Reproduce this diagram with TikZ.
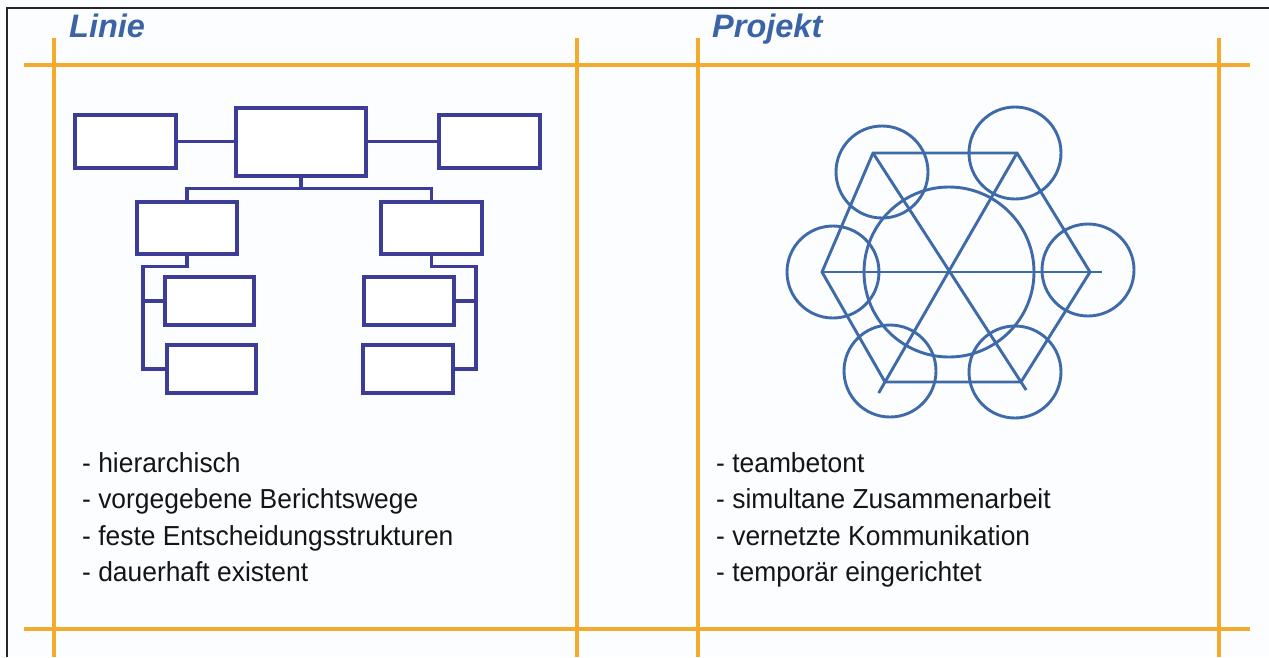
\documentclass[tikz,border=0pt]{standalone}
\usepackage{fontspec}
\setmainfont{Liberation Sans}
\usepackage{tikz}
\usetikzlibrary{calc}
\definecolor{orgcolor}{HTML}{3D3D98}
\definecolor{netcolor}{HTML}{3E6AA9}
\definecolor{rulecolor}{HTML}{F4AA2C}
\definecolor{headcolor}{HTML}{3A64A6}
\definecolor{ink}{HTML}{151515}
\definecolor{paper}{HTML}{FCFDFE}
\tikzset{
  orgbox/.style={
    draw=orgcolor,
    line width=3.4pt,
    fill=white,
    inner sep=0pt
  },
  orgline/.style={draw=orgcolor,line width=3.4pt},
  netring/.style={
    draw=netcolor,
    circle,
    line width=2.9pt,
    inner sep=0pt
  },
  netline/.style={draw=netcolor,line width=2.9pt},
  rule/.style={draw=rulecolor,line width=4.5pt},
  listtext/.style={
    text=ink,
    font=\fontsize{27.5}{30}\selectfont,
    xscale=0.96,
    transform shape,
    anchor=base west,
    inner sep=0pt
  },
  headtext/.style={
    text=headcolor,
    font=\fontsize{32.5}{36}\selectfont\bfseries\itshape,
    anchor=base west,
    inner sep=0pt
  }
}

\begin{document}
\begin{tikzpicture}[x=1pt,y=-1pt]
  \useasboundingbox (0,0) rectangle (1269,657);
  \fill[paper] (0,0) rectangle (1269,657);
  \draw[black!85,line width=1.3pt] (7,657) -- (7,8) -- (1269,8);

  % frame
  \draw[rule] (24,65) -- (1250,65);
  \draw[rule] (24,629) -- (1250,629);
  \draw[rule] (54,38) -- (54,657);
  \draw[rule] (577,38) -- (577,657);
  \draw[rule] (698,38) -- (698,657);
  \draw[rule] (1219,38) -- (1219,657);

  \node[headtext] (linie) at (69,37) {Linie};
  \node[headtext] (projekt) at (712,37) {Projekt};

  % Linienorganisation
  \node[orgbox, minimum width=101pt, minimum height=53pt] (stabL) at (125.5,141.5) {};
  \node[orgbox, minimum width=130pt, minimum height=68pt] (chef) at (301,142) {};
  \node[orgbox, minimum width=101pt, minimum height=53pt] (stabR) at (489.5,141.5) {};
  \node[orgbox, minimum width=100pt, minimum height=52pt] (abtL) at (187,228) {};
  \node[orgbox, minimum width=101pt, minimum height=52pt] (abtR) at (431.5,228) {};
  \node[orgbox, minimum width=89pt, minimum height=48pt] (subL1) at (209.5,301) {};
  \node[orgbox, minimum width=89pt, minimum height=48pt] (subL2) at (211.5,369) {};
  \node[orgbox, minimum width=90pt, minimum height=48pt] (subR1) at (409,301) {};
  \node[orgbox, minimum width=90pt, minimum height=48pt] (subR2) at (408,369) {};
  \coordinate (spineL) at (143,301);
  \coordinate (spineR) at (476,301);

  \draw[orgline] (stabL.east) -- (stabL.east -| chef.west);
  \draw[orgline] (chef.east |- stabR.west) -- (stabR.west);
  \draw[orgline] (chef.south) -- ++(0,11) coordinate (bus);
  \draw[orgline] (abtL.north) |- (bus) -| (abtR.north);
  \draw[orgline] (abtL.south) -- ++(0,11) -| (spineL) |- (subL2.west);
  \draw[orgline] (spineL) -- (subL1.west);
  \draw[orgline] (abtR.south) -- ++(0,11) -| (spineR) |- (subR2.east);
  \draw[orgline] (spineR) -- (subR1.east);

  % Projektorganisation
  \node[netring, minimum size=170pt] (kern) at (949,272) {};
  \node[netring, minimum size=92pt] (p1) at (882,172) {};
  \node[netring, minimum size=92pt] (p2) at (1015,153) {};
  \node[netring, minimum size=92pt] (p3) at (1088,270) {};
  \node[netring, minimum size=92pt] (p4) at (1015,372) {};
  \node[netring, minimum size=92pt] (p5) at (890,371) {};
  \node[netring, minimum size=92pt] (p6) at (833,272) {};
  \coordinate (h1) at (873,153);
  \coordinate (h2) at (1017,153);
  \coordinate (h3) at (1090,272);
  \coordinate (h4) at (1021,382);
  \coordinate (h5) at (885,382);
  \coordinate (h6) at (822,272);
  \draw[netline] (h1) -- (h2) -- (h3) -- (h4) -- (h5) -- (h6) -- cycle;
  \draw[netline] (h6) -- ($(h6)!1.045!(h3)$);
  \draw[netline] (h1) -- ($(h1)!1.035!(h4)$);
  \draw[netline] (h2) -- ($(h2)!1.048!(h5)$);

  % Merkmale
  \node[listtext] (linie1) at (82,472) {- hierarchisch};
  \node[listtext] (linie2) at (82,508.5) {- vorgegebene Berichtswege};
  \node[listtext] (linie3) at (82,545) {- feste Entscheidungsstrukturen};
  \node[listtext] (linie4) at (82,581.5) {- dauerhaft existent};
  \node[listtext] (projekt1) at (716,472) {- teambetont};
  \node[listtext] (projekt2) at (716,508.5) {- simultane Zusammenarbeit};
  \node[listtext] (projekt3) at (716,545) {- vernetzte Kommunikation};
  \node[listtext] (projekt4) at (716,581.5) {- temporär eingerichtet};
\end{tikzpicture}
\end{document}
